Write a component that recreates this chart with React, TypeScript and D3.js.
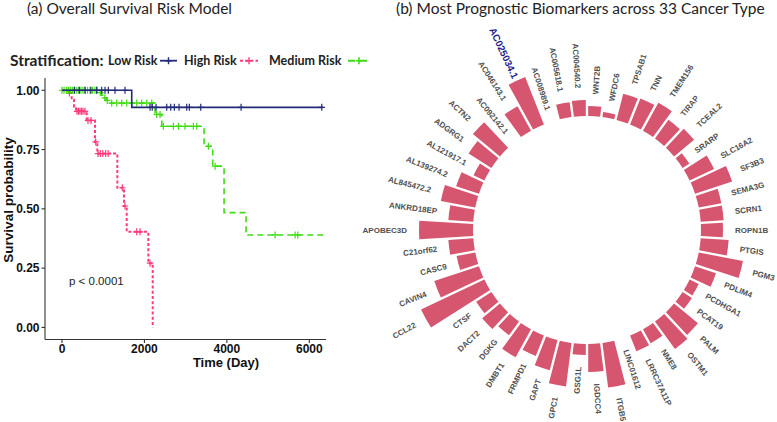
import React from 'react';
import * as d3 from 'd3';

const W = 777;
const H = 422;

// ---------- Panel (a): Kaplan-Meier data ----------
const lowRiskTimes = [0, 1692];
const lowRiskSurv = [1, 0.928];
const lowRiskEnd = 6328;
const lowRiskCensor = [300, 420, 560, 700, 842, 964, 1044, 1124, 1286, 1529, 2136, 2190, 2282, 2541, 2638, 2726, 2840, 3026, 3090, 3366, 4345, 6303];

const highRiskTimes = [0, 153, 235, 291, 340, 600, 801, 857, 1343, 1505, 1570, 2095, 2201];
const highRiskSurv = [1, 0.988, 0.96, 0.932, 0.911, 0.873, 0.782, 0.733, 0.589, 0.512, 0.403, 0.271, 0.0];
const highRiskEnd = 2201;
const highRiskCensor = [180, 364, 400, 437, 475, 510, 558, 631, 704, 818, 874, 930, 990, 1060, 1120, 1464, 1529, 1813, 1893, 2136];

const medRiskTimes = [0, 900, 960, 1010, 1070, 1120, 2257, 2420, 3447, 3657, 3932, 4466];
const medRiskSurv = [1, 0.99, 0.979, 0.968, 0.957, 0.946, 0.898, 0.848, 0.764, 0.68, 0.484, 0.39];
const medRiskEnd = 6383;
const medRiskCensor = [0, 50, 110, 160, 210, 260, 310, 360, 410, 460, 510, 560, 620, 680, 740, 800, 850, 930, 1040, 1100, 1206, 1327, 1449, 1570, 1692, 1813, 1934, 2056, 2177, 2298, 2379, 2459, 2702, 2823, 2985, 3187, 3269, 3552, 3714, 5170, 5655, 5720];

const yTicks = [0, 0.25, 0.5, 0.75, 1];
const xTicks = [0, 2000, 4000, 6000];

// ---------- Panel (b): circular bar data ----------
const genes = [
  'AC004540.2', 'AC005618.1', 'AC008989.1', 'AC025034.1', 'AC046143.1', 'AC092142.1', 'ACTN2', 'ADGRG1',
  'AL121917.1', 'AL139274.2', 'AL845472.2', 'ANKRD18EP', 'APOBEC3D', 'C21orf62', 'CASC9', 'CAVIN4',
  'CCL22', 'CTSF', 'DACT2', 'DGKG', 'DMBT1', 'FRMPD1', 'GAPT', 'GPC1', 'GSG1L', 'IGDCC4', 'ITGB5',
  'LINC01612', 'LRRC37A11P', 'NME8', 'OSTM1', 'PALM', 'PCAT19', 'PCDHGA1', 'PDLIM4', 'PGM3', 'PTGIS',
  'ROPN1B', 'SCRN1', 'SEMA3G', 'SF3B3', 'SLC16A2', 'SRARP', 'TCEAL2', 'TIRAP', 'TMEM156', 'TNN',
  'TPSAB1', 'WFDC6', 'WNT2B',
];
const scores = [
  16, 15, 0, 51, 28, 0, 35, 27,
  12, 24, 35, 25, 54, 25, 19, 47,
  70, 18, 23, 17, 32, 22, 31, 44, 11, 28, 45,
  0, 17, 16, 34, 31, 11, 10, 22, 45, 28,
  22, 23, 23, 39, 27, 8, 26, 23, 32, 28,
  27, 5, 10,
];
const highlightGene = 'AC025034.1';

const COL_LOW = '#232a78';
const COL_HIGH = '#ff3b7b';
const COL_MED = '#3fdc12';
const BAR = '#d6556f';

function survAt(times: number[], surv: number[], t: number) {
  let s = surv[0];
  for (let i = 0; i < times.length; i++) if (times[i] <= t) s = surv[i];
  return s;
}

function crossPath(x: number, y: number) {
  return `M${x - 3.2},${y}h6.4M${x},${y - 3.5}v7`;
}

function KMPanel() {
  const x = d3.scaleLinear().domain([-412, 6405]).range([45, 326]);
  const y = d3.scaleLinear().domain([-0.05, 1.05]).range([339.3, 78.4]);
  const line = d3.line<[number, number]>().x(d => x(d[0])).y(d => y(d[1])).curve(d3.curveStepAfter);

  const series = [
    { times: lowRiskTimes, surv: lowRiskSurv, end: lowRiskEnd, censor: lowRiskCensor, color: COL_LOW, dash: undefined as string | undefined, w: 1.6 },
    { times: medRiskTimes, surv: medRiskSurv, end: medRiskEnd, censor: medRiskCensor, color: COL_MED, dash: '6,4', w: 1.6 },
    { times: highRiskTimes, surv: highRiskSurv, end: highRiskEnd, censor: highRiskCensor, color: COL_HIGH, dash: '3,2.2', w: 2 },
  ];
  const drawOrder = [series[2], series[1], series[0]];

  return (
    <g>
      <text x={27} y={14} fontFamily="Lato, 'Open Sans', sans-serif" fontSize={15.5} fill="#222">(a) Overall Survival Risk Model</text>
      {/* legend */}
      <g fontFamily="Lato, 'Open Sans', sans-serif" fill="#222">
        <text x={10} y={66} fontSize={15.5} fontWeight="bold">Stratification:</text>
        <text x={108} y={65} fontSize={12.5} fontWeight="bold">Low Risk</text>
        <line x1={160} x2={177} y1={60.7} y2={60.7} stroke={COL_LOW} strokeWidth={1.8} />
        <path d={crossPath(168.5, 60.7)} stroke={COL_LOW} strokeWidth={1.4} />
        <text x={184} y={65} fontSize={12.5} fontWeight="bold">High Risk</text>
        <line x1={240} x2={258} y1={60.7} y2={60.7} stroke={COL_HIGH} strokeWidth={2} strokeDasharray="3,2.2" />
        <path d={crossPath(249, 60.7)} stroke={COL_HIGH} strokeWidth={1.4} />
        <text x={269} y={65} fontSize={12.5} fontWeight="bold">Medium Risk</text>
        <line x1={348} x2={371} y1={60.7} y2={60.7} stroke={COL_MED} strokeWidth={2} strokeDasharray="7,5" />
        <path d={crossPath(359, 60.7)} stroke={COL_MED} strokeWidth={1.6} />
      </g>
      {/* axes */}
      <g stroke="#333" strokeWidth={1.1}>
        <line x1={45} x2={45} y1={78} y2={339.5} />
        <line x1={45} x2={326} y1={339.5} y2={339.5} />
        {yTicks.map(t => <line key={'yt' + t} x1={41.5} x2={45} y1={y(t)} y2={y(t)} />)}
        {xTicks.map(t => <line key={'xt' + t} x1={x(t)} x2={x(t)} y1={339.5} y2={343} />)}
      </g>
      <g fontFamily="'Liberation Sans', Arial, sans-serif" fontWeight="bold" fontSize={12} fill="#111">
        {yTicks.map(t => (
          <text key={'yl' + t} x={39.5} y={y(t)} dy="0.36em" textAnchor="end">{t.toFixed(2)}</text>
        ))}
        {xTicks.map(t => (
          <text key={'xl' + t} x={x(t)} y={352.5} textAnchor="middle">{t}</text>
        ))}
        <text x={226} y={367} fontSize={13} textAnchor="middle">Time (Day)</text>
        <text transform="translate(12.5,200) rotate(-90)" fontSize={13.5} textAnchor="middle">Survival probability</text>
      </g>
      <text x={69} y={285} fontFamily="'Liberation Sans', Arial, sans-serif" fontSize={11.5} fill="#222">p &lt; 0.0001</text>
      {/* curves */}
      {drawOrder.map((s, k) => {
        const pts: [number, number][] = s.times.map((t, i) => [t, s.surv[i]] as [number, number]);
        pts.push([s.end, s.surv[s.surv.length - 1]]);
        return (
          <g key={'s' + k}>
            <path d={line(pts) || ''} fill="none" stroke={s.color} strokeWidth={s.w} strokeDasharray={s.dash} />
            {s.censor.map((t, i) => (
              <path key={i} d={crossPath(x(t), y(survAt(s.times, s.surv, t)))} stroke={s.color} strokeWidth={1.2} fill="none" />
            ))}
          </g>
        );
      })}
    </g>
  );
}

function CircPanel() {
  const cx = 587;
  const cy = 230;
  const inner = 114;
  const r = d3.scaleLinear().domain([0, 70]).range([inner, inner + 70]);
  const ang = d3.scaleBand<string>().domain(genes).range([0, -2 * Math.PI]).paddingInner(0).paddingOuter(0);
  const arc = d3.arc<any>().padRadius(100).padAngle(0.024);

  return (
    <g>
      <text x={396} y={14} fontFamily="Lato, 'Open Sans', sans-serif" fontSize={15.5} fill="#222">(b) Most Prognostic Biomarkers across 33 Cancer Type</text>
      <g transform={`translate(${cx},${cy})`}>
        {genes.map((g, i) => {
          const a0 = ang(g) as number;
          const a1 = a0 + ang.bandwidth();
          if (scores[i] <= 0) return null;
          const d = arc({ innerRadius: inner, outerRadius: r(scores[i]), startAngle: a0, endAngle: a1 });
          return <path key={g} d={d || ''} fill={BAR} />;
        })}
        {genes.map((g, i) => {
          const mid = (ang(g) as number) + ang.bandwidth() / 2;
          let deg = (mid * 180) / Math.PI;
          while (deg <= -180) deg += 360;
          while (deg > 180) deg -= 360;
          const hl = g === highlightGene;
          const R = r(scores[i]) + (hl ? 3 : 12);
          const rad = (deg * Math.PI) / 180;
          const px = R * Math.sin(rad);
          const py = -R * Math.cos(rad);
          const right = deg > 0;
          const rot = right ? deg - 90 : deg + 90;
          return (
            <text
              key={'l' + g}
              transform={`translate(${px},${py}) rotate(${rot})`}
              textAnchor={right ? 'start' : 'end'}
              dy="0.35em"
              fontFamily="'Liberation Sans', Arial, sans-serif"
              fontWeight="bold"
              fontSize={hl ? 9.8 : 8}
              fill={hl ? '#1d1d8c' : '#505050'}
            >
              {g}
            </text>
          );
        })}
      </g>
    </g>
  );
}

export default function App() {
  return (
    <svg width={W} height={H} style={{ position: 'absolute', left: 0, top: 0, background: '#fff' }}>
      <rect width={W} height={H} fill="#fff" />
      <KMPanel />
      <CircPanel />
    </svg>
  );
}
